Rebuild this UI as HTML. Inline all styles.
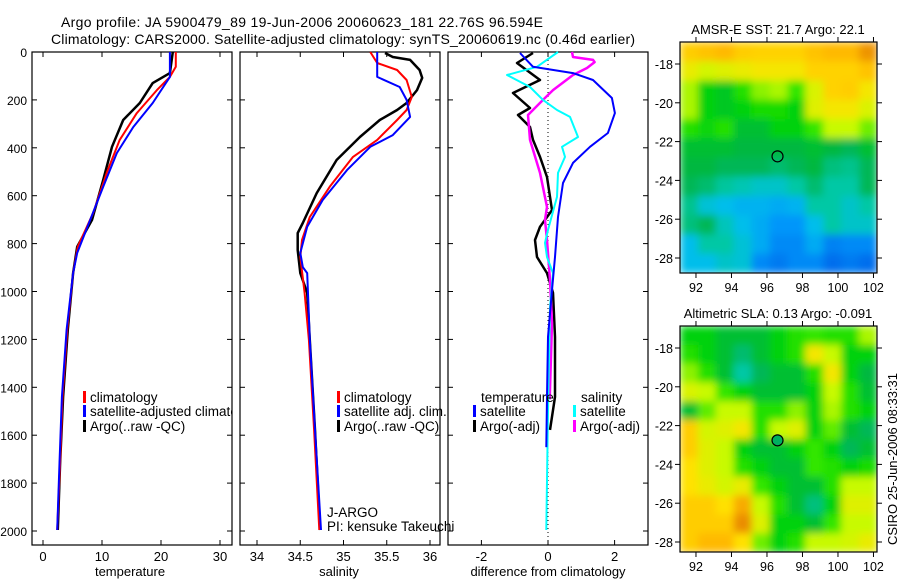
<!DOCTYPE html>
<html><head><meta charset="utf-8"><style>
html,body{margin:0;padding:0;background:#fff;}
svg{display:block;font-family:"Liberation Sans",sans-serif;}
</style></head><body>
<svg id="fig" width="900" height="580" viewBox="0 0 900 580">
<defs>
<filter id="blur" x="0" y="0" width="1" height="1"><feGaussianBlur stdDeviation="4" edgeMode="duplicate"/></filter>
<clipPath id="clipTop"><rect x="680" y="42" width="197" height="231"/></clipPath>
<clipPath id="clipBot"><rect x="680" y="326" width="197" height="226"/></clipPath>
<clipPath id="clipP1"><rect x="32" y="52" width="200" height="493"/></clipPath>
</defs>
<text x="61" y="27" font-size="14" textLength="482">Argo profile: JA 5900479_89 19-Jun-2006 20060623_181 22.76S 96.594E</text>
<text x="51" y="44" font-size="14" textLength="584">Climatology: CARS2000. Satellite-adjusted climatology: synTS_20060619.nc (0.46d earlier)</text>
<g id="g"></g>
</svg>
<script>
// ---------- data ----------
var tempDepth = [0,88,130,213,284,396,534,701,813,923,1160,1440,1716,1996];
var tempArgo  = [22.0,21.5,18.6,16.4,13.6,11.7,10.2,8.3,5.8,5.1,4.2,3.4,2.9,2.5];
var tempClimDepth = [0,62,104,159,255,367,505,672,813,923,1160,1440,1716,1996];
var tempClim  = [22.5,22.5,21.5,19.3,15.9,13.0,10.8,8.5,5.9,5.1,4.1,3.3,2.9,2.4];
var tempSatDepth = [0,104,213,313,422,563,701,839,923,1160,1440,1716,1996];
var tempSat   = [21.5,21.5,18.6,15.3,12.5,10.2,8.0,5.8,5.1,4.0,3.2,2.8,2.4];

var salDepth = [4,21,33,75,108,159,213,242,284,355,451,589,714,756,827,923,1006,1202,1578,1996];
var salArgo  = [35.48,35.57,35.77,35.88,35.91,35.85,35.73,35.62,35.42,35.19,34.92,34.69,34.53,34.47,34.47,34.50,34.58,34.61,34.67,34.73];
var salClimDepth = [0,46,75,117,188,242,284,367,438,563,689,785,856,1006,1202,1578,1996];
var salClim  = [35.31,35.39,35.62,35.73,35.79,35.73,35.62,35.39,35.11,34.84,34.61,34.52,34.50,34.55,34.60,34.66,34.72];
var salSatDepth = [0,104,146,200,271,347,396,493,618,730,839,898,923,1202,1578,1996];
var salSat   = [35.39,35.39,35.65,35.73,35.77,35.57,35.31,35.04,34.76,34.58,34.50,34.53,34.58,34.61,34.67,34.74];

var dTArgoDepth = [4,46,117,171,234,263,313,367,438,522,660,730,785,856,923,1006,1190,1440,1578];
var dTArgo = [-0.45,-0.93,-0.24,-1.05,-0.54,-0.9,-0.54,-0.45,-0.24,-0.03,0.12,-0.24,-0.39,-0.33,-0.03,0.15,0.21,0.21,0.06];
var dSArgoDepth = [0,21,33,42,67,96,159,200,263,367,505,647,701,785,952,1131,1450];
var dSArgo = [0.72,0.75,1.35,1.4,1.17,0.75,0.15,-0.15,-0.6,-0.54,-0.24,-0.03,-0.09,-0.03,0.06,0.12,0.05];
var dSSatDepth = [0,62,96,146,200,242,271,355,396,438,505,605,743,797,856,923,1065,1500,1996];
var dSSat = [0.3,-0.33,-1.23,-0.54,-0.15,0.27,0.66,0.9,0.42,0.51,0.3,0.27,0,-0.09,-0.03,0.15,0.06,0.0,-0.05];
var dTSatDepth = [4,62,88,117,192,255,338,396,463,547,689,856,994,1190,1440,1650];
var dTSat = [-0.84,-0.45,0.75,1.35,1.92,2.01,1.8,1.26,0.75,0.45,0.3,0.21,0.12,0,-0.03,-0.05];

var depthTicks = [0,200,400,600,800,1000,1200,1400,1600,1800,2000];
var tempTicks = [0,10,20,30];
var salTicks = [34,34.5,35,35.5,36];
var salTickLabels = ["34","34.5","35","35.5","36"];
var diffTicks = [-2,0,2];
var lonTicks = [92,94,96,98,100,102];
var latTicks = [-18,-20,-22,-24,-26,-28];

var sstGrid = [
[0.86,0.88,0.9,0.86,0.85,0.85,0.85,0.88,0.9,0.9,0.95],
[0.78,0.74,0.76,0.78,0.8,0.8,0.8,0.85,0.85,0.85,0.88],
[0.7,0.55,0.52,0.6,0.68,0.7,0.62,0.75,0.85,0.86,0.8],
[0.7,0.55,0.52,0.55,0.58,0.58,0.55,0.76,0.8,0.8,0.75],
[0.6,0.56,0.6,0.5,0.5,0.55,0.55,0.62,0.72,0.72,0.66],
[0.5,0.5,0.5,0.48,0.48,0.48,0.48,0.5,0.48,0.45,0.5],
[0.48,0.48,0.45,0.45,0.45,0.42,0.45,0.48,0.4,0.38,0.45],
[0.45,0.42,0.36,0.33,0.3,0.3,0.35,0.42,0.35,0.35,0.45],
[0.38,0.28,0.25,0.22,0.22,0.2,0.22,0.35,0.35,0.3,0.35],
[0.4,0.45,0.32,0.25,0.2,0.15,0.15,0.25,0.35,0.3,0.3],
[0.25,0.35,0.35,0.28,0.2,0.12,0.12,0.2,0.1,0.12,0.12],
[0.25,0.25,0.3,0.28,0.12,0.08,0.12,0.12,0.05,0.08,0.05]];
var slaGrid = [
[0.55,0.55,0.5,0.5,0.5,0.55,0.6,0.62,0.6,0.6,0.7],
[0.6,0.55,0.5,0.42,0.5,0.55,0.6,0.8,0.72,0.55,0.55],
[0.68,0.6,0.5,0.35,0.45,0.5,0.5,0.6,0.8,0.55,0.48],
[0.75,0.72,0.62,0.55,0.5,0.5,0.5,0.55,0.72,0.6,0.5],
[0.5,0.65,0.72,0.72,0.6,0.6,0.68,0.55,0.7,0.6,0.55],
[0.86,0.74,0.76,0.8,0.6,0.72,0.76,0.55,0.65,0.5,0.45],
[0.86,0.76,0.72,0.55,0.5,0.5,0.55,0.62,0.55,0.45,0.5],
[0.82,0.76,0.72,0.6,0.55,0.5,0.5,0.62,0.6,0.55,0.58],
[0.82,0.78,0.74,0.78,0.62,0.55,0.5,0.5,0.6,0.72,0.72],
[0.86,0.86,0.82,0.92,0.72,0.6,0.5,0.4,0.55,0.76,0.76],
[0.86,0.86,0.86,0.96,0.76,0.55,0.55,0.5,0.62,0.72,0.72],
[0.86,0.9,0.9,0.82,0.66,0.55,0.6,0.72,0.72,0.74,0.78]];
var floatLon = [96.594];
var floatLat = [-22.76];

// ---------- helpers ----------
var NS="http://www.w3.org/2000/svg";
var G=document.getElementById('g');
function mk(tag,attrs,parent){var e=document.createElementNS(NS,tag);for(var k in attrs)e.setAttribute(k,attrs[k]);(parent||G).appendChild(e);return e;}
var dy=function(d){return 52+d*0.2395;};
var tx=function(v){return 43+v*5.9;};
var sx=function(v){return 257+(v-34)*86.5;};
var fx=function(v){return 548+v*33.3;};

function panel(x0,name){
  var r=mk('rect',{x:x0,y:52,width:200,height:493,fill:'none',stroke:'#000','stroke-width':1.2});
  
  
  depthTicks.forEach(function(d){
    var y=dy(d);
    var t1=mk('line',{x1:x0,x2:x0+5,y1:y,y2:y,stroke:'#000'});
    
    
    var t2=mk('line',{x1:x0+195,x2:x0+200,y1:y,y2:y,stroke:'#000'});
    
    
  });
}
function xticks(ticks,labels,sc,axisName){
  ticks.forEach(function(v,i){
    var x=sc(v);
    var a=mk('line',{x1:x,x2:x,y1:545,y2:540,stroke:'#000'});
    
    
    var b=mk('line',{x1:x,x2:x,y1:52,y2:57,stroke:'#000'});
    
    
    var t=mk('text',{x:x,y:561,'font-size':13,'text-anchor':'middle'});
    t.textContent=labels[i];
    
    
  });
}
function line(vals,depths,sc,color,w,name){
  var pts=vals.map(function(v,i){return sc(v).toFixed(1)+','+dy(depths[i]).toFixed(1);}).join(' ');
  var p=mk('polyline',{points:pts,fill:'none',stroke:color,'stroke-width':w,'stroke-linejoin':'round'});
  
  
}
function label(x,y,s,name,anchor,size,parent){
  var t=mk('text',{x:x,y:y,'font-size':size||13,'text-anchor':anchor||'start'},parent);
  t.textContent=s;
  
  
  return t;
}
function legendEntry(x,y,color,s,name,parent){
  var b=mk('rect',{x:x,y:y-11,width:3,height:12,fill:color},parent);
  
  
  label(x+7,y,s,name,'start',13.5,parent);
}

// ---------- panel 1: temperature ----------
panel(32,'temperature-panel');
depthTicks.forEach(function(d){label(27,dy(d)+5,String(d),'depth-tick-label','end',12);});
xticks(tempTicks,tempTicks.map(String),tx,'temperature-axis');
line(tempArgo,tempDepth,tx,'#000',2.5,'temp-argo-line');
line(tempClim,tempClimDepth,tx,'#f00',2,'temp-climatology-line');
line(tempSat,tempSatDepth,tx,'#00f',2,'temp-satellite-line');
label(130,576,'temperature','x-axis-title-temperature','middle',13);
var lg1=mk('g',{'clip-path':'url(#clipP1)'});


legendEntry(83,402,'#f00','climatology','legend-climatology',lg1);
legendEntry(83,416,'#00f','satellite-adjusted climatology','legend-satellite-adjusted',lg1);
legendEntry(83,431,'#000','Argo(..raw -QC)','legend-argo',lg1);

// ---------- panel 2: salinity ----------
panel(240,'salinity-panel');
xticks(salTicks,salTickLabels,sx,'salinity-axis');
line(salArgo,salDepth,sx,'#000',2.5,'sal-argo-line');
line(salClim,salClimDepth,sx,'#f00',2,'sal-climatology-line');
line(salSat,salSatDepth,sx,'#00f',2,'sal-satellite-line');
label(339,576,'salinity','x-axis-title-salinity','middle',13);
legendEntry(337,402,'#f00','climatology','legend-sal-climatology');
legendEntry(337,416,'#00f','satellite adj. clim.','legend-sal-satellite');
legendEntry(337,431,'#000','Argo(..raw -QC)','legend-sal-argo');
label(327,517,'J-ARGO','pi-group-label','start',13.5);
label(327,531,'PI: kensuke Takeuchi','pi-name-label','start',13.5);

// ---------- panel 3: difference ----------
panel(448,'difference-panel');
xticks(diffTicks,diffTicks.map(String),fx,'difference-axis');
var z=mk('line',{x1:fx(0),x2:fx(0),y1:52,y2:545,stroke:'#000','stroke-dasharray':'1,3'});


line(dTArgo,dTArgoDepth,fx,'#000',2.5,'diff-temp-argo-line');
line(dSArgo,dSArgoDepth,fx,'#f0f',2.5,'diff-sal-argo-line');
line(dSSat,dSSatDepth,fx,'#0ff',2,'diff-sal-satellite-line');
line(dTSat,dTSatDepth,fx,'#00f',2,'diff-temp-satellite-line');
label(548,576,'difference from climatology','x-axis-title-difference','middle',13);
label(481,402,'temperature','legend-temperature-heading','start',13.5);
legendEntry(473,416,'#00f','satellite','legend-diff-temp-satellite');
legendEntry(473,431,'#000','Argo(-adj)','legend-diff-temp-argo');
label(581,402,'salinity','legend-salinity-heading','start',13.5);
legendEntry(573,416,'#0ff','satellite','legend-diff-sal-satellite');
legendEntry(573,431,'#f0f','Argo(-adj)','legend-diff-sal-argo');

// ---------- maps ----------
function cmap(v){
  var st=[[0,[0,90,230]],[0.15,[0,150,250]],[0.25,[0,190,235]],[0.35,[0,200,165]],[0.47,[0,180,70]],[0.55,[0,210,10]],[0.62,[50,230,0]],[0.72,[200,250,0]],[0.82,[255,225,0]],[0.9,[255,185,0]],[1,[220,110,0]]];
  v=Math.max(0,Math.min(1,v));
  for(var i=1;i<st.length;i++){if(v<=st[i][0]){var a=st[i-1],b=st[i],f=(v-a[0])/(b[0]-a[0]);
    return 'rgb('+[0,1,2].map(function(k){return Math.round(a[1][k]+f*(b[1][k]-a[1][k]));}).join(',')+')';}}
  return 'rgb(220,110,0)';
}
var lonX=function(l){return 680+(l-91.1)*17.75;};
function drawMap(grid,y0,h,lat18y,clip,name,titleTxt,filled){
  var latY=function(l){return lat18y+(-18-l)*19.4;};
  var g=mk('g',{'clip-path':'url(#'+clip+')'});
  
  
  var inner=mk('g',{filter:'url(#blur)'},g);
  var nr=grid.length,nc=grid[0].length,cw=197/nc,ch=h/nr;
  grid.forEach(function(row,r){row.forEach(function(v,c){
    var cell=mk('rect',{x:(680+c*cw).toFixed(2),y:(y0+r*ch).toFixed(2),width:(cw+0.6).toFixed(2),height:(ch+0.6).toFixed(2),fill:cmap(v)},inner);
    
    
  });});
  var box=mk('rect',{x:680,y:y0,width:197,height:h,fill:'none',stroke:'#000','stroke-width':1.2});
  
  
  lonTicks.forEach(function(l){
    var x=lonX(l);
    var a=mk('line',{x1:x,x2:x,y1:y0-5,y2:y0,stroke:'#000'});
    
    
    var b=mk('line',{x1:x,x2:x,y1:y0+h,y2:y0+h+5,stroke:'#000'});
    
    
    label(x,y0+h+19,String(l),'lon-tick-label','middle',12.5);
  });
  latTicks.forEach(function(l){
    var y=latY(l);
    var a=mk('line',{x1:675,x2:680,y1:y,y2:y,stroke:'#000'});
    
    
    var b=mk('line',{x1:877,x2:882,y1:y,y2:y,stroke:'#000'});
    
    
    label(673,y+5,String(l),'lat-tick-label','end',12.5);
  });
  var t=label(778,y0-8,titleTxt,name+'-title','middle',13);
  floatLon.forEach(function(lo,i){
    var c=mk('circle',{cx:lonX(lo),cy:latY(floatLat[i]),r:5.5,fill:filled?'#00b060':'none',stroke:'#000','stroke-width':1.2});
    
    
  });
}
drawMap(sstGrid,42,231,64,'clipTop','sst-map','AMSR-E SST: 21.7 Argo: 22.1',false);
drawMap(slaGrid,326,226,348,'clipBot','sla-map','Altimetric SLA: 0.13 Argo: -0.091',true);
var stamp=mk('text',{x:0,y:0,'font-size':13,transform:'translate(897,545) rotate(-90)'});
stamp.textContent='CSIRO 25-Jun-2006 08:33:31';


</script>
</body></html>
